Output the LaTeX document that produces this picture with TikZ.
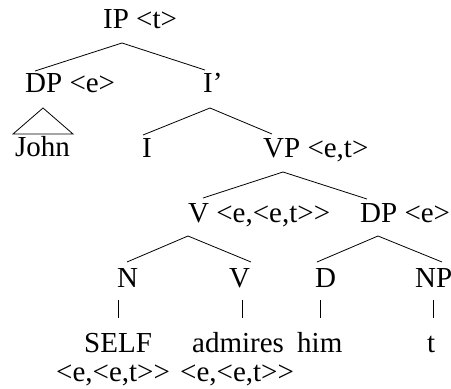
\documentclass[tikz,border=0pt]{standalone}
\usepackage{fontspec}
\setmainfont{Liberation Serif}[Ligatures=TeXOff]
\begin{document}
\begin{tikzpicture}[x=1pt,y=-1pt,
  lab/.style={anchor=base west, inner sep=0pt, font=\fontsize{29}{34}\selectfont},
  edge/.style={line width=0.8pt},
  bar/.style={line width=0.9pt}]
\useasboundingbox (0,0) rectangle (451,389);
% labels
\node[lab] (ip) at (103,28) {IP <t>};
\node[lab] (dp) at (25,92) {DP <e>};
\node[lab] (ib) at (203,92) {I’};
\node[lab] (john) at (15,156) {John};
\node[lab] (i) at (142,157) {I};
\node[lab] (vp) at (263,157) {VP <e,t>};
\node[lab] (v) at (188,222) {V <e,<e,t>>};
\node[lab] (dp2) at (360,222) {DP <e>};
\node[lab] (n) at (117,287) {N};
\node[lab] (v2) at (229,287) {V};
\node[lab] (d) at (315,287) {D};
\node[lab] (np) at (415,287) {NP};
\node[lab] (self) at (84,352) {SELF};
\node[lab] (adm) at (192,352) {admires};
\node[lab] (him) at (297,352) {him};
\node[lab] (t) at (427,352) {t};
\node[lab] (ty1) at (56,381) {<e,<e,t>>};
\node[lab] (ty2) at (180,381) {<e,<e,t>>};
% branch points
\coordinate (ipa) at (122,43);
\coordinate (ipl) at (35,71);
\coordinate (ipr) at (205,70);
\coordinate (tra) at (43,108);
\coordinate (trl) at (13,134);
\coordinate (trr) at (73,134);
\coordinate (iba) at (210,108);
\coordinate (ibl) at (143,135);
\coordinate (ibr) at (272,134);
\coordinate (vpa) at (283,172);
\coordinate (vpl) at (203,198);
\coordinate (vpr) at (367,199);
\coordinate (va) at (188,236);
\coordinate (vl) at (127,262);
\coordinate (vr) at (251,262);
\coordinate (dpa) at (378,236);
\coordinate (dpl) at (317,262);
\coordinate (dpr) at (442,262);
\draw[edge] (ipl) -- (ipa) -- (ipr);
\draw[edge] (tra) -- (trl) -- (trr) -- cycle;
\draw[edge] (ibl) -- (iba) -- (ibr);
\draw[edge] (vpl) -- (vpa) -- (vpr);
\draw[edge] (vl) -- (va) -- (vr);
\draw[edge] (dpl) -- (dpa) -- (dpr);
% unary bars
\draw[bar] (118,300) -- (118,318);
\draw[bar] (242,300) -- (242,318);
\draw[bar] (320,300) -- (320,318);
\draw[bar] (433,300) -- (433,318);
\end{tikzpicture}
\end{document}
